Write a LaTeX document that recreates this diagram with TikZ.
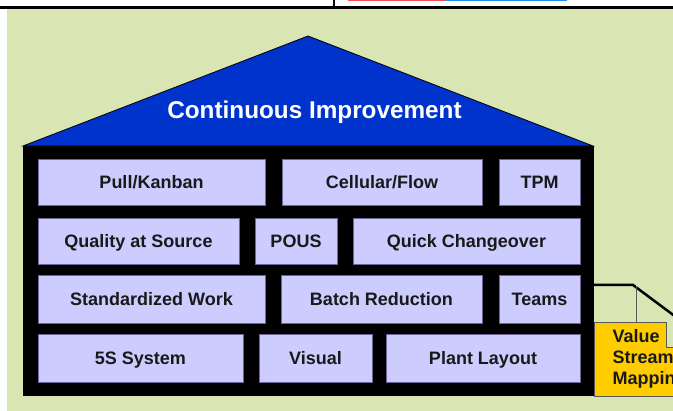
\documentclass[tikz,border=0pt]{standalone}
\usepackage{fontspec}
\setmainfont{Liberation Sans}
\definecolor{bggreen}{RGB}{217,229,178}
\definecolor{roofblue}{RGB}{0,51,204}
\definecolor{lav}{RGB}{204,204,255}
\definecolor{lavedge}{RGB}{110,100,150}
\definecolor{vsmyellow}{RGB}{255,204,0}
\definecolor{barred}{RGB}{240,80,80}
\definecolor{barblue}{RGB}{34,136,238}
\tikzset{
  blk/.style={draw=lavedge, line width=0.7pt, fill=lav, inner sep=0pt,
    text height=13pt, text depth=0pt,
    font=\fontsize{18}{20}\selectfont\bfseries, text=black!90},
  vsmtext/.style={anchor=base west, font=\fontsize{18}{21}\selectfont\bfseries, text=black!90, inner sep=0pt},
}
\begin{document}
\begin{tikzpicture}[x=1pt,y=-1pt]
\useasboundingbox (0,0) rectangle (673,411);
% frame remnants at top
\fill[white] (0,0) rectangle (673,411);
\fill[barred] (348,0) rectangle (446,1.3);
\fill[barblue] (446,0) rectangle (567,1.3);
\draw[line width=1.5pt] (334,0) -- (334,7);
\draw[line width=2.5pt] (0,7.3) -- (673,7.3);
% background
\fill[bggreen] (7,8.6) rectangle (673,411);
% roof
\filldraw[fill=roofblue, draw=black, line width=0.8pt] (23,146) -- (308,36) -- (593,146) -- cycle;
\node[font=\fontsize{24.3}{26}\selectfont\bfseries, text=white, anchor=base] (ci) at (314.5,118.5) {Continuous Improvement};
% house body
\fill[black] (23,146) rectangle (594,396);
% row 1
\node[blk, minimum width=227pt, minimum height=46pt] (pk) at (151.5,182) {Pull/Kanban};
\node[blk, minimum width=200pt, minimum height=46pt] (cf) at (382,182) {Cellular/Flow};
\node[blk, minimum width=81pt, minimum height=46pt] (tpm) at (539.5,182) {TPM};
% row 2
\node[blk, minimum width=201pt, minimum height=46pt] (qs) at (138.5,241) {Quality at Source};
\node[blk, minimum width=82pt, minimum height=46pt] (pous) at (296,241) {POUS};
\node[blk, minimum width=227pt, minimum height=46pt] (qc) at (466.5,241) {Quick Changeover};
% row 3
\node[blk, minimum width=227pt, minimum height=48pt] (sw) at (151.5,299) {Standardized Work};
\node[blk, minimum width=201pt, minimum height=48pt] (br) at (381.5,299) {Batch Reduction};
\node[blk, minimum width=81pt, minimum height=48pt] (tm) at (539.5,299) {Teams};
% row 4
\node[blk, minimum width=205pt, minimum height=48pt] (ss) at (140.5,358) {5S System};
\node[blk, minimum width=113pt, minimum height=48pt] (vis) at (315.5,358) {Visual};
\node[blk, minimum width=194pt, minimum height=48pt] (pl) at (483,358) {Plant Layout};
% value stream mapping building
\draw[line width=2.5pt] (594,285) -- (633,285) -- (680,320);
\draw[gray!70!black, line width=0.6pt] (636,286) -- (636,322.7);
\filldraw[fill=vsmyellow, draw=gray!70!black, line width=0.6pt]
  (594,322.7) -- (666,322.7) -- (666,347) -- (690,347) -- (690,396) -- (594,396) -- cycle;
\node[vsmtext] (v1) at (612.5,343) {Value};
\node[vsmtext] (v2) at (612.5,364) {Stream};
\node[vsmtext] (v3) at (612.5,385) {Mapping};
\end{tikzpicture}
\end{document}
